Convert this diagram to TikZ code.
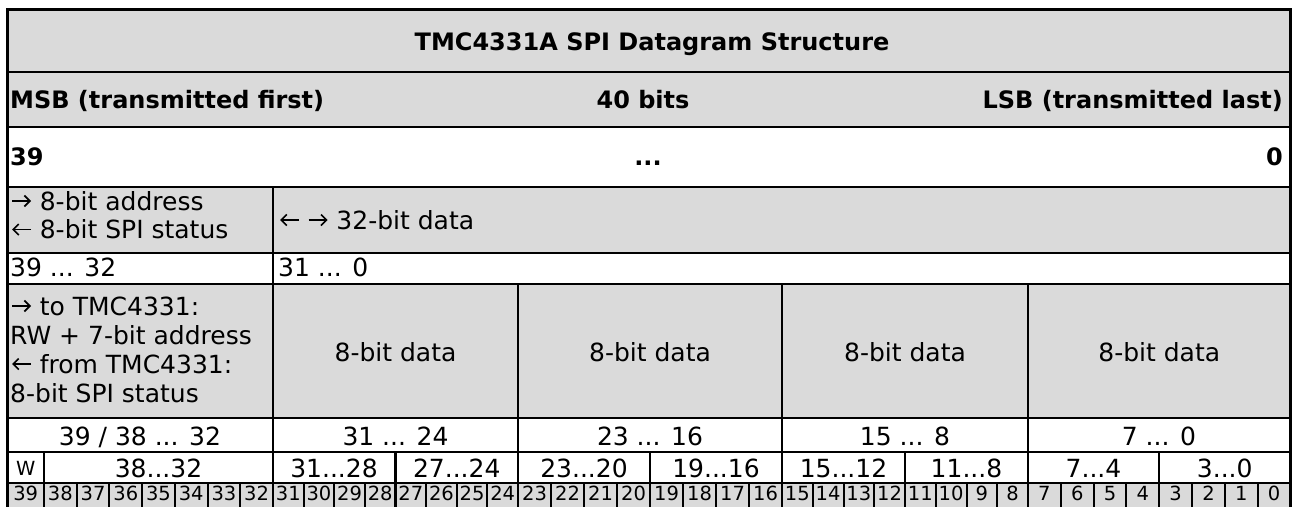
\documentclass[tikz,border=0pt]{standalone}
\usepackage{fontspec}
\setmainfont{DejaVu Sans}
\usetikzlibrary{arrows.meta}
\definecolor{cellgray}{RGB}{218,218,218}
\tikzset{
  rule/.style={line width=2.4pt,black},
  thinrule/.style={line width=2pt,black},
  glypharr/.style={line width=1.7pt,-{Straight Barb[length=5.5pt,width=11pt]}},
  hdrtxt/.style={font=\bfseries\fontsize{24}{28}\selectfont,inner sep=0pt},
  celltxt/.style={font=\fontsize{25}{28.5}\selectfont,inner sep=0pt},
  bittxt/.style={font=\fontsize{19.5}{21}\selectfont,inner sep=0pt},
}
\newcommand{\toarr}{\tikz[baseline=-9pt,x=1pt,y=1pt]\draw[glypharr] (0,0) -- (19,0);}
\newcommand{\fromarr}{\tikz[baseline=-9pt,x=1pt,y=1pt]\draw[glypharr] (19,0) -- (0,0);}

\begin{document}
\begin{tikzpicture}[x=1pt,y=-1pt]
  \useasboundingbox (0,0) rectangle (1293,506);
  \clip (0,0) rectangle (1293,506);
  % shaded rows
  \fill[cellgray] (7.5,9.5) rectangle (1290.5,127);
  \fill[cellgray] (7.5,187) rectangle (1290.5,253);
  \fill[cellgray] (7.5,284) rectangle (1290.5,418);
  \fill[cellgray] (7.5,483) rectangle (1290.5,512);
  % rules
  \foreach \y in {72,127,187,253,284,418,452,483}
    \draw[rule] (7.5,\y) -- (1290.5,\y);
  \draw[rule] (7.5,512) -- (7.5,9.5) -- (1290.5,9.5) -- (1290.5,512);
  \draw[rule] (273,187) -- (273,512);
  \foreach \x in {518,782,1028}
    \draw[rule] (\x,284) -- (\x,512);
  \foreach \x in {44,395.5,650,905,1159}
    \draw[rule] (\x,452) -- (\x,512);
  \foreach \k in {1,...,6}
    \draw[thinrule] ({44+\k*229/7},483) -- ++(0,30);
  \foreach \s/\e in {273/518,518/782,782/1028,1028/1290.5}
    \foreach \k in {1,2,3,5,6,7}
      \draw[thinrule] ({\s+\k*(\e-\s)/8},483) -- ++(0,30);

  % header
  \node[hdrtxt,anchor=base] (title) at (652,50) {TMC4331A SPI Datagram Structure};
  \node[hdrtxt,anchor=base west] (msb) at (10,108) {MSB (transmitted first)};
  \node[hdrtxt,anchor=base] (nbits) at (643,108) {40 bits};
  \node[hdrtxt,anchor=base east] (lsb) at (1283,108) {LSB (transmitted last)};
  \node[hdrtxt,anchor=base west] (top) at (10,165) {39};
  \node[hdrtxt,anchor=base] (mid) at (648,165) {...};
  \node[hdrtxt,anchor=base east] (bot) at (1283,165) {0};

  % address / data split
  \node[celltxt,anchor=base west] (addr1) at (11,210) {\toarr\ 8-bit address};
  \node[celltxt,anchor=base west] (addr2) at (11,238.5) {\fromarr\ 8-bit SPI status};
  \node[celltxt,anchor=base west] (data) at (279,229) {\fromarr\ \toarr\ 32-bit data};
  \node[celltxt,anchor=base west] (addrbits) at (10,276) {39 ... 32};
  \node[celltxt,anchor=base west] (databits) at (278,276) {31 ... 0};

  % byte fields
  \node[celltxt,anchor=base west] (cmd1) at (11,315) {\toarr\ to TMC4331:};
  \node[celltxt,anchor=base west] (cmd2) at (10,344) {RW + 7-bit address};
  \node[celltxt,anchor=base west] (cmd3) at (11,373) {\fromarr\ from TMC4331:};
  \node[celltxt,anchor=base west] (cmd4) at (10,402) {8-bit SPI status};
  \foreach \s/\e [count=\i] in {273/518,518/782,782/1028,1028/1290.5}
    \node[celltxt,anchor=base] (byte\i) at ({(\s+\e)/2},361) {8-bit data};
  \node[celltxt,anchor=base] (range0) at (140,445) {39 / 38 ... 32};
  \node[celltxt,anchor=base] (range1) at (395.5,445) {31 ... 24};
  \node[celltxt,anchor=base] (range2) at (650,445) {23 ... 16};
  \node[celltxt,anchor=base] (range3) at (905,445) {15 ... 8};
  \node[celltxt,anchor=base] (range4) at (1159,445) {7 ... 0};

  % nibbles
  \node[bittxt,anchor=base] (rw) at (25.75,475) {W};
  \node[celltxt,anchor=base] (nib0) at (158.5,477) {38...32};
  \node[celltxt,anchor=base] (nib1) at (334,477) {31...28};
  \node[celltxt,anchor=base] (nib2) at (456.75,477) {27...24};
  \node[celltxt,anchor=base] (nib3) at (584,477) {23...20};
  \node[celltxt,anchor=base] (nib4) at (716,477) {19...16};
  \node[celltxt,anchor=base] (nib5) at (843.5,477) {15...12};
  \node[celltxt,anchor=base] (nib6) at (966.5,477) {11...8};
  \node[celltxt,anchor=base] (nib7) at (1093.5,477) {7...4};
  \node[celltxt,anchor=base] (nib8) at (1224.75,477) {3...0};

  % single bits
  \node[bittxt,anchor=base] (bit39) at (25.75,500) {39};
  \foreach \k in {0,...,6} {
    \pgfmathtruncatemacro\b{38-\k}
    \node[bittxt,anchor=base] (bit\b) at ({44+(\k+0.5)*229/7},500) {\b};
  }
  \foreach \s/\e/\hi in {273/518/31,518/782/23,782/1028/15,1028/1290.5/7}
    \foreach \k in {0,...,7} {
      \pgfmathtruncatemacro\b{\hi-\k}
      \node[bittxt,anchor=base] (bit\b) at ({\s+(\k+0.5)*(\e-\s)/8},500) {\b};
    }
\end{tikzpicture}
\end{document}
